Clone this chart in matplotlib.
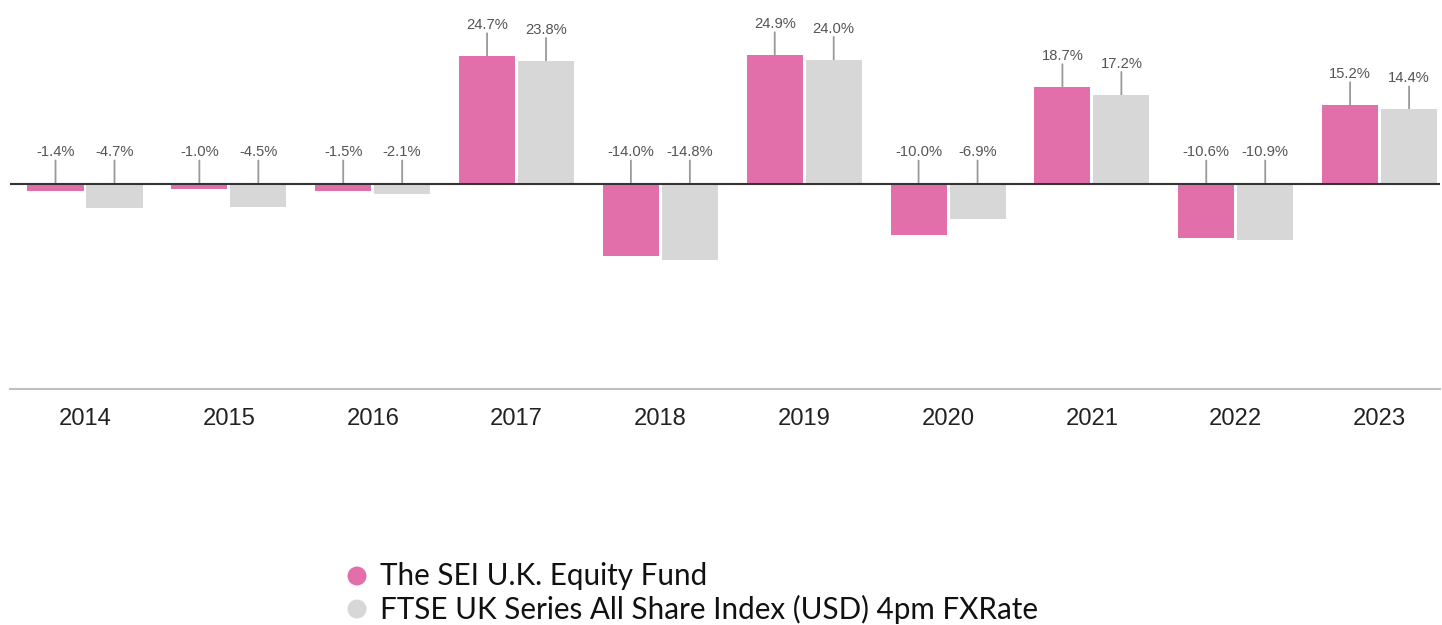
import matplotlib
matplotlib.use("Agg")
import matplotlib.pyplot as plt
from matplotlib.patches import Circle
from matplotlib.transforms import IdentityTransform

years = ["2014", "2015", "2016", "2017", "2018", "2019", "2020", "2021", "2022", "2023"]
fund = [-1.4, -1.0, -1.5, 24.7, -14.0, 24.9, -10.0, 18.7, -10.6, 15.2]
index = [-4.7, -4.5, -2.1, 23.8, -14.8, 24.0, -6.9, 17.2, -10.9, 14.4]
series_names = ["The SEI U.K. Equity Fund", "FTSE UK Series All Share Index (USD) 4pm FXRate"]
colors = ["#E36FAA", "#D7D7D7"]

W, H = 1442, 625
fig = plt.figure(figsize=(W / 100, H / 100), dpi=100)
ax = fig.add_axes([10 / W, (H - 389) / H, 1430 / W, 389 / H])

scale = 5.15
zero_px = 183.5
ax.set_ylim(-(389 - zero_px) / scale, zero_px / scale)
ax.set_xlim(-0.5215, 9.42)

bw = 0.39
off = 0.205
xs = list(range(len(years)))
for vals, sign, col in [(fund, -1, colors[0]), (index, 1, colors[1])]:
    pos = [x + sign * off for x in xs]
    ax.bar(pos, vals, width=bw, color=col, zorder=2)
    for x, v in zip(pos, vals):
        base = v if v > 0 else 0
        ax.annotate("", xy=(x, base), xytext=(0, 23), textcoords="offset pixels",
                    arrowprops=dict(arrowstyle="-", color="#999999", lw=1.3,
                                    shrinkA=0, shrinkB=0), zorder=1)
        ax.annotate(f"{v:.1f}%", xy=(x, base), xytext=(0, 31), textcoords="offset pixels",
                    ha="center", va="center", fontsize=10.6, color="#555555",
                    family="Liberation Sans")

ax.axhline(0, color="#333333", lw=1.5, zorder=3)
for s in ["top", "right", "left"]:
    ax.spines[s].set_visible(False)
ax.spines["bottom"].set_color("#C0C0C0")
ax.spines["bottom"].set_linewidth(1.5)
ax.set_yticks([])
ax.set_xticks(xs)
ax.set_xticklabels(years, fontsize=17.1, family="Liberation Sans", color="#222222")
ax.tick_params(axis="x", length=0, pad=14)

# legend
ys = [576, 609]
for name, col, y in zip(series_names, colors, ys):
    fig.add_artist(Circle((357, H - y), 9.5, transform=IdentityTransform(),
                          facecolor=col, edgecolor="none"))
    fig.text(380 / W, (H - y) / H, name, fontsize=21.3, family="Lato",
             color="#111111", va="center", ha="left")

fig.savefig("out.png", dpi=100)
